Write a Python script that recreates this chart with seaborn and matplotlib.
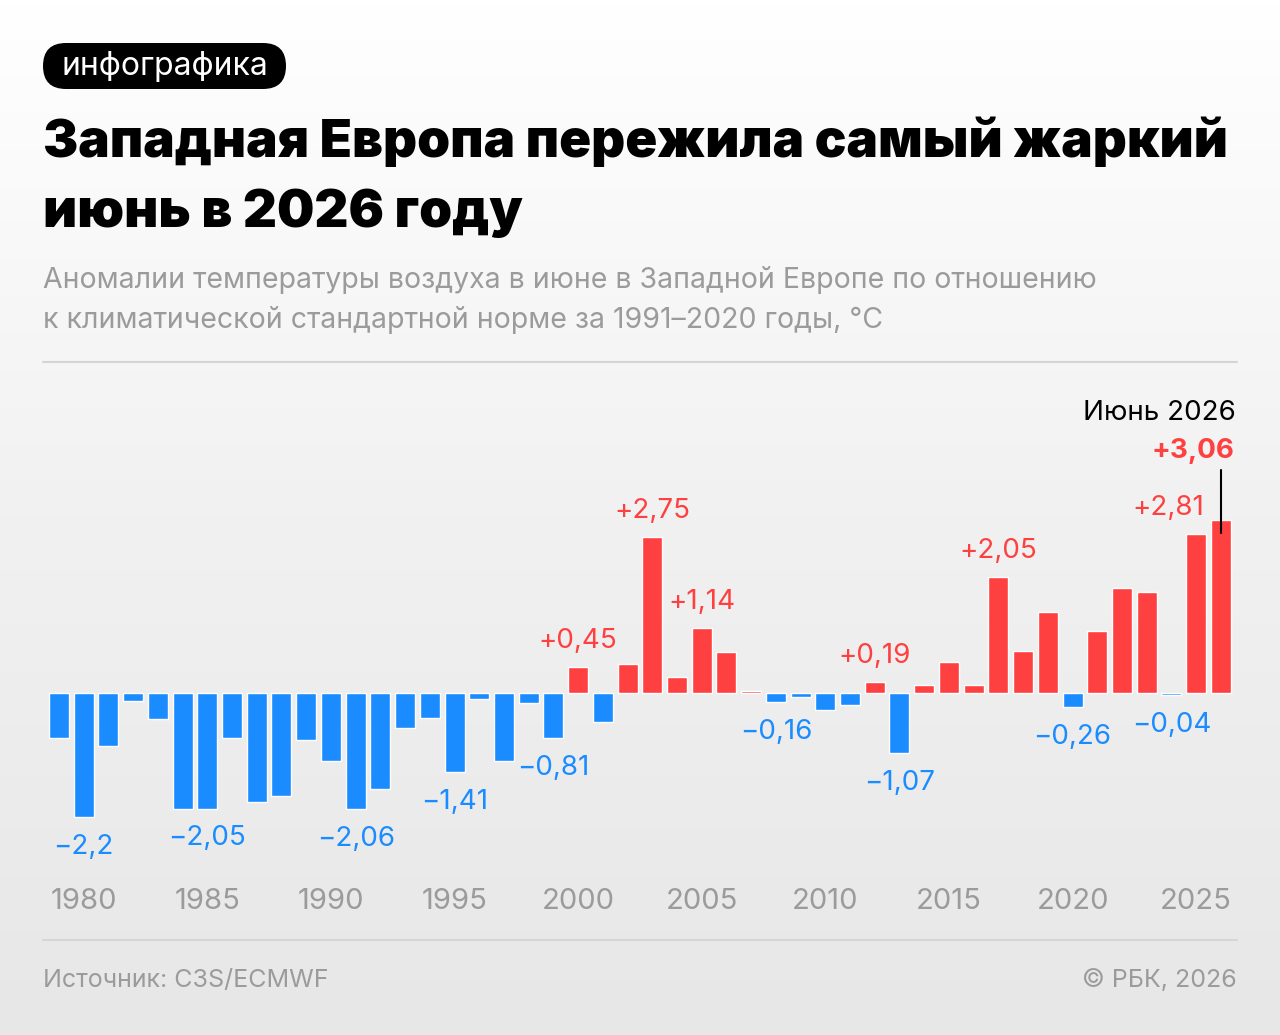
import matplotlib
matplotlib.use("Agg")
import matplotlib.pyplot as plt
import numpy as np
import pandas as pd
import seaborn as sns
from matplotlib.lines import Line2D
from matplotlib.patches import FancyBboxPatch
from matplotlib.colors import LinearSegmentedColormap


years = list(range(1979, 2027))
anomaly = [-0.80, -2.20, -0.94, -0.14, -0.47, -2.05, -2.05, -0.80, -1.93, -1.82,
           -0.84, -1.20, -2.06, -1.70, -0.62, -0.44, -1.41, -0.11, -1.21, -0.18,
           -0.81, 0.45, -0.51, 0.51, 2.75, 0.28, 1.14, 0.72, 0.03, -0.16,
           -0.08, -0.30, -0.22, 0.19, -1.07, 0.14, 0.54, 0.14, 2.05, 0.73,
           1.42, -0.26, 1.10, 1.85, 1.78, -0.04, 2.81, 3.06]
label_years = [1980, 1985, 1991, 1995, 1999, 2000, 2003, 2005, 2008,
               2012, 2013, 2017, 2020, 2024, 2025, 2026]
tick_years = [1980, 1985, 1990, 1995, 2000, 2005, 2010, 2015, 2020, 2025]

title_lines = ["Западная Европа пережила самый жаркий", "июнь в 2026 году"]
subtitle_lines = ["Аномалии температуры воздуха в июне в Западной Европе по отношению",
                  "к климатической стандартной норме за 1991–2020 годы, °C"]
tag = "инфографика"
callout = "Июнь 2026"
source = "Источник: C3S/ECMWF"
credit = "© РБК, 2026"

RED = "#ff4040"
BLUE = "#1a8cff"
GREY = "#9b9b9b"

W, H = 1280, 1035

sns.set_style("white")
plt.rcParams['font.family'] = ['Inter', 'DejaVu Sans']


def fx(px):
    return px / W


def fy(py):
    return 1 - py / H


def fmt(v):
    s = f"{abs(v):.2f}".rstrip('0').rstrip('.').replace('.', ',')
    return ('+' if v > 0 else '\u2212') + s


df = pd.DataFrame({'year': years, 'anomaly': anomaly})
df['sign'] = np.where(df['anomaly'] >= 0, 'pos', 'neg')

fig = plt.figure(figsize=(W / 100, H / 100), dpi=100)

# background gradient
bg = fig.add_axes([0, 0, 1, 1], zorder=-5)
grad = np.linspace(0, 1, 256).reshape(-1, 1)
cmap = LinearSegmentedColormap.from_list('bg', ['#ffffff', '#f1f1f1', '#e7e7e7'])
bg.imshow(grad, aspect='auto', cmap=cmap, extent=[0, 1, 0, 1])
bg.axis('off')

ax = fig.add_axes([fx(43), fy(870), fx(1237) - fx(43), fy(380) - fy(870)])
ax.patch.set_alpha(0)
sns.barplot(data=df, x='year', y='anomaly', hue='sign', dodge=False,
            palette={'pos': RED, 'neg': BLUE}, saturation=1, width=0.81,
            legend=False, ax=ax)
ax.set_xlim(-0.647, 47.654)
ax.set_ylim(-3.138, 5.535)
ax.set_xlabel('')
ax.set_ylabel('')
ax.set_yticks([])
ax.set_xticks([years.index(y) for y in tick_years])
ax.set_xticklabels([str(y) for y in tick_years])
ax.tick_params(axis='x', length=0, pad=13, labelsize=21, labelcolor=GREY)
sns.despine(ax=ax, left=True, bottom=True)

for y in label_years:
    i = years.index(y)
    v = anomaly[i]
    col = RED if v > 0 else BLUE
    if y == 2026:
        ax.text(47.53, 4.15, fmt(v), ha='right', va='baseline', fontsize=20,
                fontweight='bold', color=col)
        ax.text(47.6, 4.83, callout, ha='right', va='baseline', fontsize=20,
                color='black')
        ax.plot([i, i], [2.83, 3.94], color='black', lw=1.5)
    elif y == 2025:
        ax.text(46.32, v + 0.336, fmt(v), ha='right', va='baseline', fontsize=20, color=col)
    elif v > 0:
        ax.text(i, v + 0.336, fmt(v), ha='center', va='baseline', fontsize=20, color=col)
    else:
        ax.text(i, v - 0.30, fmt(v), ha='center', va='top', fontsize=20, color=col)

# tag pill
fig.add_artist(FancyBboxPatch((0.43, (H - 89) / 100), 2.43, 0.46,
                              boxstyle='round,pad=0,rounding_size=0.23',
                              fc='black', ec='none', transform=fig.dpi_scale_trans))
fig.text(fx(164.5), fy(75), tag, ha='center', va='baseline', fontsize=23, color='white')

fig.text(fx(43), fy(157), title_lines[0], ha='left', va='baseline', fontsize=38,
         fontweight='black', color='black')
fig.text(fx(43), fy(227), title_lines[1], ha='left', va='baseline', fontsize=38,
         fontweight='black', color='black')
fig.text(fx(43), fy(288), subtitle_lines[0], ha='left', va='baseline', fontsize=20.5, color=GREY)
fig.text(fx(43), fy(328), subtitle_lines[1], ha='left', va='baseline', fontsize=20.5, color=GREY)

for yy in (362, 940):
    fig.add_artist(Line2D([fx(43), fx(1237)], [fy(yy), fy(yy)], color='#d5d5d5', lw=1.5))

fig.text(fx(43), fy(987), source, ha='left', va='baseline', fontsize=18, color=GREY)
fig.text(fx(1237), fy(987), credit, ha='right', va='baseline', fontsize=18, color=GREY)

fig.savefig('out.png', dpi=100)
